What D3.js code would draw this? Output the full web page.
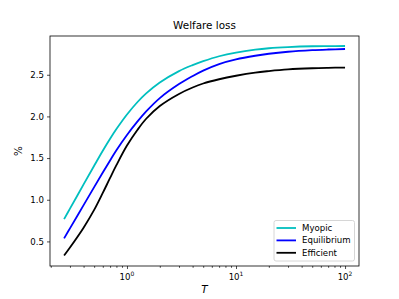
<!DOCTYPE html>
<html>
<head>
<meta charset="utf-8">
<script src="https://cdn.jsdelivr.net/npm/d3@7"></script>
<style>
  body { margin: 0; background: #fff; }
  text { font-family: "DejaVu Sans", sans-serif; }
</style>
</head>
<body>
<div id="chart"></div>
<script>
// Data
var T = [0.265, 0.3, 0.4, 0.5, 0.6, 0.7, 0.8, 1, 1.25, 1.5, 2, 3, 4, 5, 7, 10, 15, 20, 30, 50, 70, 100];
var myopic = [0.767, 0.893, 1.184, 1.408, 1.588, 1.732, 1.848, 2.023, 2.173, 2.276, 2.407, 2.544, 2.616, 2.663, 2.722, 2.766, 2.801, 2.818, 2.832, 2.842, 2.844, 2.845];
var equilibrium = [0.537, 0.657, 0.935, 1.151, 1.327, 1.472, 1.594, 1.777, 1.940, 2.060, 2.220, 2.388, 2.484, 2.550, 2.628, 2.684, 2.728, 2.752, 2.776, 2.795, 2.803, 2.809];
var efficient = [0.331, 0.427, 0.665, 0.878, 1.082, 1.262, 1.415, 1.650, 1.840, 1.972, 2.125, 2.270, 2.347, 2.395, 2.446, 2.488, 2.526, 2.544, 2.564, 2.578, 2.583, 2.586];
var seriesNames = ["Myopic", "Equilibrium", "Efficient"];
var seriesColors = ["#00bfbf", "#0000ff", "#000000"];
var yTicks = [0.5, 1.0, 1.5, 2.0, 2.5];
var xTicks = [1, 10, 100];

var svgWidth = 399, svgHeight = 299;
var margin = {top: 36, right: 40, bottom: 33, left: 50};
var width = svgWidth - margin.left - margin.right;
var height = svgHeight - margin.top - margin.bottom;

var svg = d3.select("#chart").append("svg")
  .attr("width", svgWidth)
  .attr("height", svgHeight);

var chartGroup = svg.append("g")
  .attr("transform", `translate(${margin.left}, ${margin.top})`);

// Scales
var xScale = d3.scaleLog()
  .domain([Math.pow(10, -0.706), Math.pow(10, 2.128)])
  .range([0, width]);
var yScale = d3.scaleLinear()
  .domain([0.205, 2.965])
  .range([height, 0]);

// Lines
var allSeries = [myopic, equilibrium, efficient];
var line = d3.line()
  .x(d => xScale(d[0]))
  .y(d => yScale(d[1]))
  .curve(d3.curveCatmullRom.alpha(0.5));

allSeries.forEach(function(vals, i) {
  chartGroup.append("path")
    .datum(T.map((t, j) => [t, vals[j]]))
    .attr("d", line)
    .attr("fill", "none")
    .attr("stroke", seriesColors[i])
    .attr("stroke-width", 1.8);
});

// Axes
var minorTicks = [];
[0.1, 1, 10, 100].forEach(function(base) {
  for (var k = 2; k <= 9; k++) {
    var v = base * k;
    if (v > xScale.domain()[0] && v < xScale.domain()[1]) minorTicks.push(v);
  }
});

var bottomAxis = d3.axisBottom(xScale)
  .tickValues(xTicks)
  .tickSize(3)
  .tickFormat(() => "");
var minorAxis = d3.axisBottom(xScale)
  .tickValues(minorTicks)
  .tickSize(1.8)
  .tickFormat(() => "");
var leftAxis = d3.axisLeft(yScale)
  .tickValues(yTicks)
  .tickSize(3)
  .tickPadding(3)
  .tickFormat(d3.format(".1f"));

chartGroup.append("g")
  .attr("transform", `translate(0, ${height})`)
  .call(bottomAxis);
chartGroup.append("g")
  .attr("transform", `translate(0, ${height})`)
  .call(minorAxis);
var gy = chartGroup.append("g").call(leftAxis);

chartGroup.selectAll(".tick line").attr("stroke", "#000").attr("stroke-width", 0.7);
gy.selectAll("text").attr("font-size", "8.6px").attr("fill", "#000");

// x tick labels 10^n
xTicks.forEach(function(t) {
  var lbl = chartGroup.append("text")
    .attr("x", xScale(t))
    .attr("y", height + 14)
    .attr("text-anchor", "middle")
    .attr("font-size", "8.6px")
    .attr("fill", "#000");
  lbl.append("tspan").text("10");
  lbl.append("tspan")
    .attr("dy", "-4")
    .attr("font-size", "6px")
    .text(Math.round(Math.log10(t)));
});

// Frame
chartGroup.selectAll(".domain").remove();
chartGroup.append("rect")
  .attr("width", width)
  .attr("height", height)
  .attr("fill", "none")
  .attr("stroke", "#000")
  .attr("stroke-width", 0.8);

// Title and labels
chartGroup.append("text")
  .attr("x", width / 2)
  .attr("y", -7)
  .attr("text-anchor", "middle")
  .attr("font-size", "10.4px")
  .text("Welfare loss");

chartGroup.append("text")
  .attr("transform", "rotate(-90)")
  .attr("x", -height / 2)
  .attr("y", -28)
  .attr("text-anchor", "middle")
  .attr("font-size", "10.4px")
  .text("%");

chartGroup.append("text")
  .attr("x", width / 2)
  .attr("y", height + 27)
  .attr("text-anchor", "middle")
  .attr("font-size", "10.4px")
  .attr("font-style", "italic")
  .text("T");

// Legend
var legend = chartGroup.append("g")
  .attr("transform", `translate(${width - 85}, ${height - 45.5})`);
legend.append("rect")
  .attr("width", 80.5)
  .attr("height", 40.5)
  .attr("rx", 2)
  .attr("fill", "#fff")
  .attr("fill-opacity", 0.8)
  .attr("stroke", "#ccc")
  .attr("stroke-width", 0.8);
seriesNames.forEach(function(name, i) {
  var yy = 7.5 + i * 12.4;
  legend.append("line")
    .attr("x1", 2.5).attr("x2", 22)
    .attr("y1", yy).attr("y2", yy)
    .attr("stroke", seriesColors[i])
    .attr("stroke-width", 1.8);
  legend.append("text")
    .attr("x", 28)
    .attr("y", yy + 3)
    .attr("font-size", "8.6px")
    .text(name);
});
</script>
</body>
</html>
